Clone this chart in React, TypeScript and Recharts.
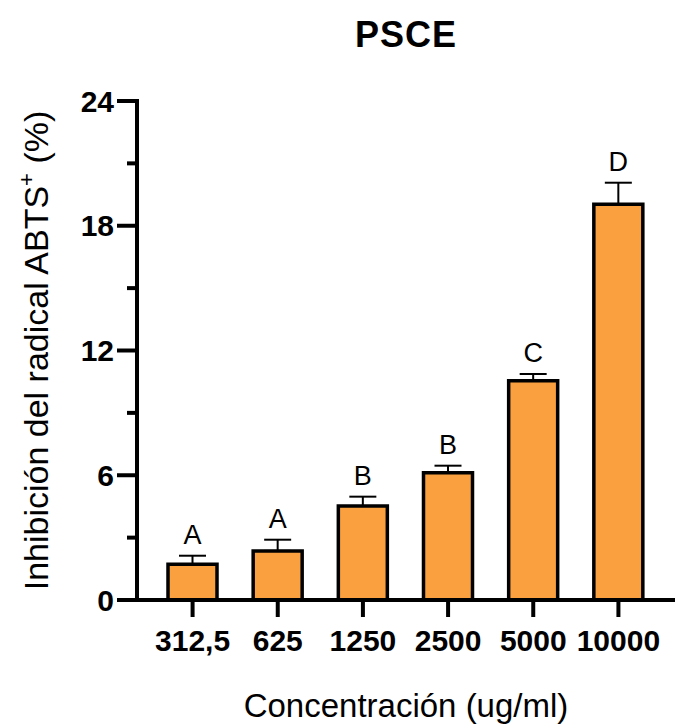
import { BarChart, Bar, XAxis, YAxis, ErrorBar, LabelList } from 'recharts';

const concentrations = ['312,5', '625', '1250', '2500', '5000', '10000'];
const inhibition = [1.72, 2.36, 4.52, 6.12, 10.55, 19.03];
const sem = [0.41, 0.54, 0.45, 0.34, 0.32, 1.04];
const letters = ['A', 'A', 'B', 'B', 'C', 'D'];
const yTicks = [0, 3, 6, 9, 12, 15, 18, 21, 24];

const data = concentrations.map((conc, i) => ({
  conc,
  value: inhibition[i],
  err: sem[i],
  errRange: [0, sem[i]],
  letter: letters[i],
}));

const FONT = '"Liberation Sans", Arial, Helvetica, sans-serif';
const ORANGE = '#FBA03F';
const TICK_SIZE = 20;
const TICK_MARGIN = 3;

const YTick = ({ x, y, payload }: any) => {
  const major = payload.value % 6 === 0;
  const axisX = x + TICK_SIZE + TICK_MARGIN;
  return (
    <g>
      <line
        x1={axisX - (major ? TICK_SIZE : 10)}
        x2={axisX}
        y1={y}
        y2={y}
        stroke="#000"
        strokeWidth={4}
      />
      {major && (
        <text
          x={x}
          y={y}
          dy="0.355em"
          textAnchor="end"
          fontFamily={FONT}
          fontWeight="bold"
          fontSize={30}
          fill="#000"
        >
          {payload.value}
        </text>
      )}
    </g>
  );
};

const YLabel = ({ viewBox }: any) => {
  const cx = 48;
  const cy = viewBox.y + viewBox.height / 2;
  return (
    <text
      x={cx}
      y={cy}
      transform={`rotate(-90, ${cx}, ${cy})`}
      textAnchor="middle"
      fontFamily={FONT}
      fontSize={34}
      fill="#000"
    >
      <tspan>Inhibición del radical ABTS</tspan>
      <tspan fontSize={22} dy={-14}>+</tspan>
      <tspan dy={14}> (%)</tspan>
    </text>
  );
};

export default function App() {
  return (
    <div style={{ position: 'absolute', left: 0, top: 0, width: 675, height: 725, background: '#fff' }}>
      <svg
        width={675}
        height={725}
        style={{ position: 'absolute', left: 0, top: 0, pointerEvents: 'none' }}
      >
        <text
          x={406}
          y={47}
          textAnchor="middle"
          fontFamily={FONT}
          fontWeight="bold"
          fontSize={36}
          letterSpacing={1}
          fill="#000"
        >
          PSCE
        </text>
      </svg>
      <BarChart
        width={675}
        height={725}
        data={data}
        margin={{ top: 101, right: 0, left: 0, bottom: 0 }}
      >
        <XAxis
          dataKey="conc"
          height={125}
          padding={{ left: 13, right: 14 }}
          axisLine={{ stroke: '#000', strokeWidth: 4 }}
          tickLine={{ stroke: '#000', strokeWidth: 4 }}
          tickSize={17}
          tickMargin={13}
          tick={{ fill: '#000', fontSize: 30, fontWeight: 'bold', fontFamily: FONT }}
          label={{
            value: 'Concentración (ug/ml)',
            position: 'insideBottom',
            offset: 8,
            fill: '#000',
            fontSize: 33,
            fontFamily: FONT,
          }}
        />
        <YAxis
          width={137}
          domain={[0, 24]}
          ticks={yTicks}
          interval={0}
          axisLine={{ stroke: '#000', strokeWidth: 4, strokeLinecap: 'square' }}
          tickLine={false}
          tickSize={TICK_SIZE}
          tickMargin={TICK_MARGIN}
          tick={<YTick />}
          label={<YLabel />}
        />
        <Bar
          dataKey="value"
          stackId="s"
          barSize={49}
          fill={ORANGE}
          stroke="#000"
          strokeWidth={3.5}
          isAnimationActive={false}
        >
          <ErrorBar dataKey="errRange" width={13.5} stroke="#000" strokeWidth={2} direction="y" />
        </Bar>
        <Bar dataKey="err" stackId="s" barSize={49} fill="transparent" isAnimationActive={false}>
          <LabelList
            dataKey="letter"
            position="top"
            offset={12}
            fill="#000"
            fontSize={27}
            fontFamily={FONT}
          />
        </Bar>
      </BarChart>
    </div>
  );
}
